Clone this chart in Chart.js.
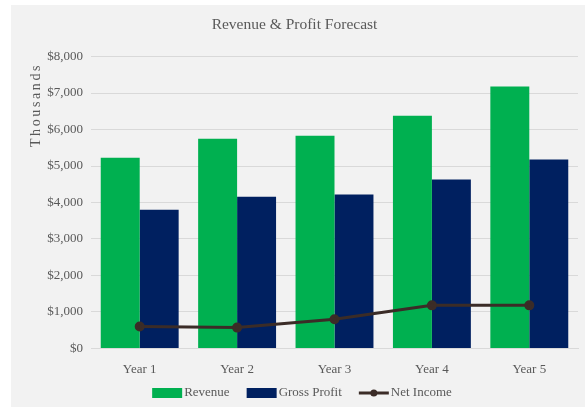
<!DOCTYPE html>
<html>
<head>
<meta charset="utf-8">
<script src="https://cdn.jsdelivr.net/npm/chart.js@4"></script>
<style>
  html, body { margin: 0; padding: 0; background: #ffffff; }
  #wrap { position: absolute; left: 11px; top: 5px; width: 574px; height: 402px; background: #f2f2f2; }
  canvas { display: block; }
</style>
</head>
<body>
<div id="wrap"><canvas id="c" width="574" height="402"></canvas></div>
<script>
const categories = ["Year 1", "Year 2", "Year 3", "Year 4", "Year 5"];
const revenue = [5230, 5750, 5830, 6380, 7180];
const grossProfit = [3800, 4160, 4220, 4630, 5180];
const netIncome = [600, 570, 800, 1180, 1180];
const yTicks = [0, 1000, 2000, 3000, 4000, 5000, 6000, 7000, 8000];
const legendOrder = ["Revenue", "Gross Profit", "Net Income"];

const FONT = "'Liberation Serif', 'DejaVu Serif', serif";
const TXT = "#595959";
const LINE_COLOR = "#3b2c27";

const unitsLabel = {
  id: 'unitsLabel',
  afterDraw(chart) {
    const ctx = chart.ctx;
    ctx.save();
    ctx.translate(25, 100);
    ctx.rotate(-Math.PI / 2);
    ctx.font = "14px " + FONT;
    ctx.letterSpacing = "2.6px";
    ctx.fillStyle = TXT;
    ctx.textAlign = 'center';
    ctx.textBaseline = 'middle';
    ctx.fillText('Thousands', 0, 0);
    ctx.restore();
  }
};

const customLegend = {
  id: 'customLegend',
  afterDraw(chart) {
    const ctx = chart.ctx;
    ctx.save();
    ctx.font = "13px " + FONT;
    const boxW = 30, boxH = 10, gap = 2, itemGap = 17;
    const items = legendOrder.map(name => {
      const ds = chart.data.datasets.find(d => d.label === name);
      return { name, ds, w: boxW + gap + ctx.measureText(name).width };
    });
    const total = items.reduce((s, it) => s + it.w, 0) + itemGap * (items.length - 1);
    let x = 291 - total / 2;
    const cy = 388;
    items.forEach(it => {
      if (it.ds.type === 'line') {
        ctx.strokeStyle = it.ds.borderColor;
        ctx.lineWidth = 3;
        ctx.beginPath();
        ctx.moveTo(x, cy);
        ctx.lineTo(x + boxW, cy);
        ctx.stroke();
        ctx.fillStyle = it.ds.borderColor;
        ctx.beginPath();
        ctx.arc(x + boxW / 2, cy, 3.5, 0, Math.PI * 2);
        ctx.fill();
      } else {
        ctx.fillStyle = it.ds.backgroundColor;
        ctx.fillRect(x, cy - boxH / 2, boxW, boxH);
      }
      ctx.fillStyle = TXT;
      ctx.textAlign = 'left';
      ctx.textBaseline = 'middle';
      ctx.fillText(it.name, x + boxW + gap, cy);
      x += it.w + itemGap;
    });
    ctx.restore();
  }
};

new Chart(document.getElementById('c'), {
  type: 'bar',
  data: {
    labels: categories,
    datasets: [
      { type: 'line', label: 'Net Income', data: netIncome, borderColor: LINE_COLOR, backgroundColor: LINE_COLOR,
        borderWidth: 3, pointRadius: 3.5, pointStyle: 'circle', pointBackgroundColor: LINE_COLOR, tension: 0, order: 0 },
      { label: 'Revenue', data: revenue, backgroundColor: '#00b050', categoryPercentage: 0.8, barPercentage: 1.0, order: 2 },
      { label: 'Gross Profit', data: grossProfit, backgroundColor: '#002060', categoryPercentage: 0.8, barPercentage: 1.0, order: 2 }
    ]
  },
  options: {
    responsive: false,
    animation: false,
    devicePixelRatio: 1,
    layout: { padding: { left: 0, right: 7, top: 0, bottom: 25 } },
    plugins: {
      title: { display: true, text: 'Revenue & Profit Forecast', color: TXT,
        font: { family: FONT, size: 15.5, weight: 'normal' }, padding: { top: 11, bottom: 22 } },
      legend: { display: false },
      tooltip: { enabled: false }
    },
    scales: {
      x: {
        grid: { display: false },
        border: { color: '#d9d9d9' },
        ticks: { color: TXT, font: { family: FONT, size: 13 }, padding: 5 }
      },
      y: {
        min: 0, max: 8000,
        afterBuildTicks: (s) => { s.ticks = yTicks.map(v => ({ value: v })); },
        afterFit: (s) => { s.width = 80; },
        grid: { color: '#d9d9d9', drawTicks: false },
        border: { display: false },
        ticks: { color: TXT, font: { family: FONT, size: 13 }, padding: 8,
          callback: (v) => '$' + v.toLocaleString('en-US') }
      }
    }
  },
  plugins: [unitsLabel, customLegend]
});
</script>
</body>
</html>
